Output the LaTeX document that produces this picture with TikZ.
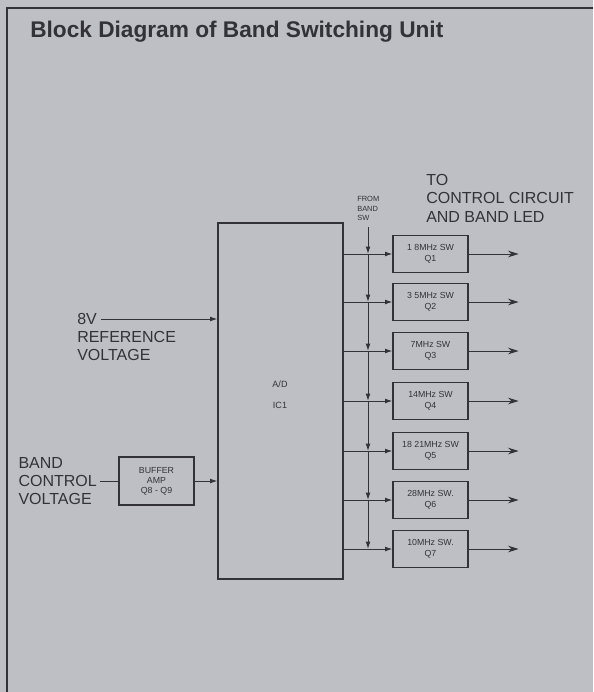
\documentclass[tikz,border=0pt]{standalone}
\usepackage{fontspec}
\setmainfont{Liberation Sans}
\usetikzlibrary{positioning,arrows.meta}
\definecolor{paper}{RGB}{190,191,196}
\definecolor{ink}{RGB}{50,50,56}

\begin{document}
\begin{tikzpicture}[x=0.75pt, y=-0.75pt, >={Latex[length=5.5pt,width=3.6pt]},
  every node/.style={text=ink, inner sep=0pt, font=\fontsize{12}{13.8}\selectfont},
  swbox/.style={draw=ink, line width=0.9pt, minimum width=56.25pt, minimum height=27.75pt, align=center, font=\fontsize{6.6}{8.5}\selectfont},
  wire/.style={draw=ink, line width=0.75pt},
  outarrow/.style={wire, ->, >={Stealth[length=8pt,width=5pt]}}]
  \fill[paper] (0,0) rectangle (593,692);
  \useasboundingbox (0,0) rectangle (593,692);
  \draw[ink, line width=1.5pt] (7,692) -- (7,8) -- (593,8);

  \node[anchor=base west, font=\bfseries\fontsize{17}{19}\selectfont] (title) at (30,38) {Block Diagram of Band Switching Unit};

  % converter block
  \node[draw=ink, line width=0.9pt, minimum width=93.75pt, minimum height=267pt] (ad) at (280.5,401) {};
  \node[align=center, font=\fontsize{6.8}{15.75}\selectfont] (adlbl) at (280,394.5) {A/D\\IC1};

  % inputs
  \node[anchor=west] (v8) at (77,319) {8V};
  \node[anchor=north west, align=left] (refv) at (77,331) {REFERENCE\\VOLTAGE};
  \node[anchor=east, align=left] (bcv) at (97,481) {BAND\\CONTROL\\VOLTAGE};
  \node[swbox, minimum height=36pt, font=\fontsize{6.6}{7.5}\selectfont] (buf) at (156.5,481) {BUFFER\\AMP\\Q8 - Q9};
  \draw[wire, ->, shorten <=3pt] (v8.east) -- (v8.east -| ad.west);
  \draw[wire, shorten <=2pt] (bcv.east) -- (buf.west);
  \draw[wire, ->] (buf.east) -- (buf.east -| ad.west);

  % band switches
  \node[swbox] (s1) at (430.5,254) {1 8MHz SW\\Q1};
  \node[swbox] (s2) at (430.5,302) {3 5MHz SW\\Q2};
  \node[swbox] (s3) at (430.5,351) {7MHz SW\\Q3};
  \node[swbox] (s4) at (430.5,401) {14MHz SW\\Q4};
  \node[swbox] (s5) at (430.5,451) {18 21MHz SW\\Q5};
  \node[swbox] (s6) at (430.5,500) {28MHz SW.\\Q6};
  \node[swbox] (s7) at (430.5,549) {10MHz SW.\\Q7};

  \node[anchor=south west, align=left, font=\fontsize{5.6}{7}\selectfont] (fbs) at (357,221) {FROM\\BAND\\SW};
  \coordinate (bus) at (368,227);
  \node[anchor=north west, align=left] (toc) at (426,174) {TO\\CONTROL CIRCUIT\\AND BAND LED};

  \draw[wire, ->] (ad.east |- s1) -- (s1.west);
  \draw[wire, ->] (ad.east |- s2) -- (s2.west);
  \draw[wire, ->] (ad.east |- s3) -- (s3.west);
  \draw[wire, ->] (ad.east |- s4) -- (s4.west);
  \draw[wire, ->] (ad.east |- s5) -- (s5.west);
  \draw[wire, ->] (ad.east |- s6) -- (s6.west);
  \draw[wire, ->] (ad.east |- s7) -- (s7.west);

  \draw[wire, ->] (bus) -- (bus |- s1);
  \draw[wire, ->] (bus |- s1) -- (bus |- s2);
  \draw[wire, ->] (bus |- s2) -- (bus |- s3);
  \draw[wire, ->] (bus |- s3) -- (bus |- s4);
  \draw[wire, ->] (bus |- s4) -- (bus |- s5);
  \draw[wire, ->] (bus |- s5) -- (bus |- s6);
  \draw[wire, ->] (bus |- s6) -- (bus |- s7);

  \draw[outarrow] (s1.east) -- ++(50,0);
  \draw[outarrow] (s2.east) -- ++(50,0);
  \draw[outarrow] (s3.east) -- ++(50,0);
  \draw[outarrow] (s4.east) -- ++(50,0);
  \draw[outarrow] (s5.east) -- ++(50,0);
  \draw[outarrow] (s6.east) -- ++(50,0);
  \draw[outarrow] (s7.east) -- ++(50,0);
\end{tikzpicture}
\end{document}
